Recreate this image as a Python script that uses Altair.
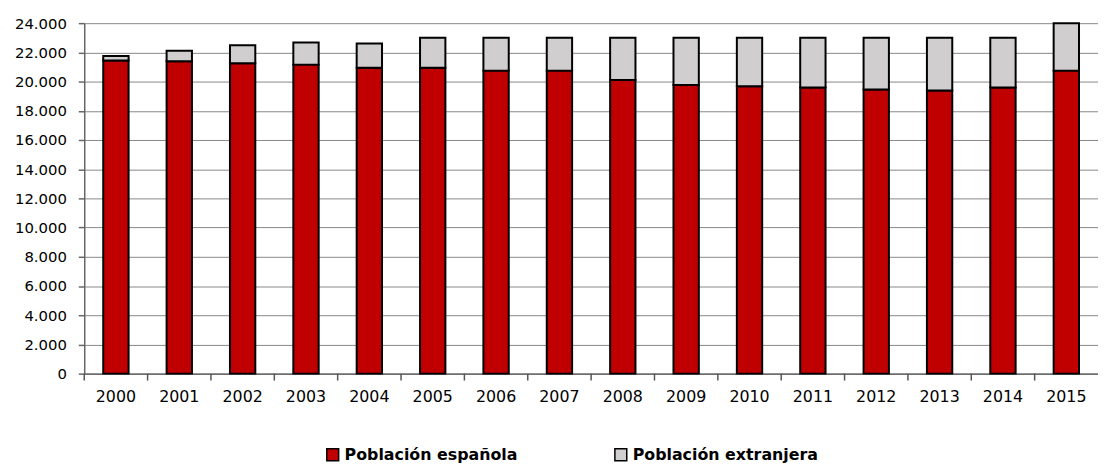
import altair as alt
import pandas as pd

years = [str(y) for y in range(2000, 2016)]
espanola = [21450, 21390, 21250, 21160, 20950, 20950, 20750, 20750,
            20110, 19770, 19680, 19590, 19450, 19390, 19590, 20750]
total = [21750, 22110, 22480, 22680, 22610, 23000, 23000, 23000,
         23000, 23000, 23000, 23000, 23000, 23000, 23000, 24000]
extranjera = [t - e for t, e in zip(total, espanola)]
series = ["Población española", "Población extranjera"]
colors = ["#C00000", "#D0CECE"]

rows = []
for i, y in enumerate(years):
    rows.append({"year": y, "serie": series[0], "value": espanola[i], "orden": 0})
    rows.append({"year": y, "serie": series[1], "value": extranjera[i], "orden": 1})
df = pd.DataFrame(rows)
df_years = pd.DataFrame({"year": years})

FONT = "DejaVu Sans"
W, H = 1024, 354
PI = 0.6
STEP = W / 16.0
BW = STEP * (1 - PI)

xscale = alt.Scale(domain=years, paddingInner=PI, paddingOuter=PI / 2)

bars = alt.Chart(df).mark_bar(stroke="black", strokeWidth=2).encode(
    x=alt.X("year:N", title=None, scale=xscale,
            axis=alt.Axis(labelAngle=0, ticks=False, labelPadding=15,
                          labelFontSize=16, labelColor="#000", labelFont=FONT,
                          domainColor="#555", domainWidth=1.5)),
    y=alt.Y("value:Q", stack="zero", title=None,
            scale=alt.Scale(domain=[0, 24000], nice=False),
            axis=alt.Axis(values=list(range(0, 24001, 2000)),
                          labelExpr="replace(format(datum.value, ',d'), ',', '.')",
                          labelFontSize=15, labelColor="#000", labelFont=FONT,
                          tickSize=6, tickColor="#666", tickWidth=1.5, labelPadding=12,
                          domainColor="#666", domainWidth=1.5,
                          grid=True, gridColor="#888", gridWidth=1)),
    color=alt.Color("serie:N", scale=alt.Scale(domain=series, range=colors),
                    legend=alt.Legend(title=None, orient="none", direction="horizontal",
                                      legendX=243, legendY=428,
                                      symbolType="square", symbolSize=144,
                                      symbolStrokeColor="black", symbolStrokeWidth=1.5,
                                      labelFontSize=16, labelFontWeight="bold",
                                      labelFont=FONT, labelColor="#000",
                                      columnPadding=95, labelOffset=4, labelLimit=300)),
    order=alt.Order("orden:Q", sort="ascending"),
)

xticks = alt.Chart(df_years).mark_rule(color="#555", strokeWidth=1.5,
                                       xOffset=-(STEP - BW) / 2).encode(
    x=alt.X("year:N", scale=xscale, bandPosition=0),
    y=alt.value(H),
    y2=alt.value(H + 7),
)

chart = alt.layer(bars, xticks).properties(
    width=W, height=H,
    autosize=alt.AutoSizeParams(type="none"),
    padding={"left": 77, "top": 13, "right": 0, "bottom": 92},
).configure_view(stroke=None)

chart.save("out.html", embed_options={"renderer": "svg", "actions": False})
